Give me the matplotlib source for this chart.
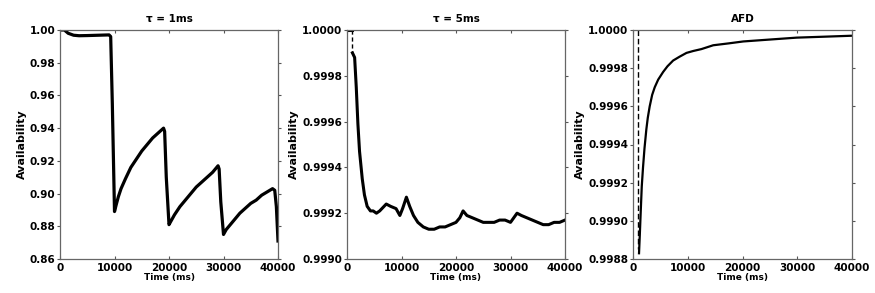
import matplotlib
matplotlib.use('Agg')
from matplotlib import pyplot as plt

plt.rcParams['font.family'] = 'DejaVu Sans'
plt.rcParams['font.weight'] = 'bold'

# tau = 1ms
t1 = [0, 800, 1500, 2500, 3500, 5000, 7000, 9000, 9300, 9600, 10000,
      10300, 10700, 11200, 12000, 13000, 14000, 15000, 16000, 17000, 18000, 19000,
      19200, 19500, 20000,
      20500, 21000, 22000, 23000, 24000, 25000, 26000, 27000, 28000, 29000,
      29200, 29500, 30000,
      30500, 31000, 32000, 33000, 34000, 35000, 36000, 37000, 38000, 39000,
      39400, 39700, 40000]
a1 = [1.0, 1.0, 0.998, 0.9968, 0.9965, 0.9966, 0.9968, 0.997, 0.996, 0.955, 0.889,
      0.893, 0.898, 0.903, 0.909, 0.916, 0.921, 0.926, 0.930, 0.934, 0.937, 0.940,
      0.938, 0.910, 0.881,
      0.884, 0.887, 0.892, 0.896, 0.900, 0.904, 0.907, 0.910, 0.913, 0.917,
      0.915, 0.895, 0.875,
      0.878, 0.880, 0.884, 0.888, 0.891, 0.894, 0.896, 0.899, 0.901, 0.903,
      0.902, 0.892, 0.871]

# tau = 5ms
t2 = [1000, 1400, 1700, 2000, 2300, 2800, 3200, 3700, 4300, 4800, 5400, 6000,
      7200, 8000, 9000, 9700, 10200, 10900, 11500, 12200, 13000, 14000, 15000,
      16000, 17000, 18000, 19000, 20000, 20700, 21300, 22000, 23000, 24000,
      25000, 26000, 27000, 28000, 29000, 30000, 30600, 31200, 32000, 33000,
      34000, 35000, 36000, 37000, 38000, 39000, 40000]
a2 = [0.99990, 0.99988, 0.99975, 0.99959, 0.99947, 0.99935, 0.99928, 0.99923,
      0.99921, 0.99921, 0.99920, 0.99921, 0.99924, 0.99923, 0.99922, 0.99919,
      0.99922, 0.99927, 0.99923, 0.99919, 0.99916, 0.99914, 0.99913, 0.99913,
      0.99914, 0.99914, 0.99915, 0.99916, 0.99918, 0.99921, 0.99919, 0.99918,
      0.99917, 0.99916, 0.99916, 0.99916, 0.99917, 0.99917, 0.99916, 0.99918,
      0.99920, 0.99919, 0.99918, 0.99917, 0.99916, 0.99915, 0.99915, 0.99916,
      0.99916, 0.99917]

# AFD
t3 = [1100, 1250, 1400, 1600, 1830, 2100, 2440, 2700, 3050, 3500, 3970, 4600,
      5500, 6300, 7330, 8500, 9770, 11000, 12500, 14650, 17500, 20150, 25000,
      29900, 35000, 40000]
a3 = [0.99883, 0.99893, 0.99904, 0.99918, 0.99928, 0.99938, 0.99948, 0.99954,
      0.99960, 0.99966, 0.99970, 0.99974, 0.99978, 0.99981, 0.99984, 0.99986,
      0.99988, 0.99989, 0.99990, 0.99992, 0.99993, 0.99994, 0.99995, 0.99996,
      0.999965, 0.99997]

panels = [
    ('\u03c4 = 1ms', t1, a1, 2.3, (0.86, 1.0), [0.86, 0.88, 0.90, 0.92, 0.94, 0.96, 0.98, 1.00], '%.2f', [60, 278]),
    ('\u03c4 = 5ms', t2, a2, 2.2, (0.999, 1.0), [0.999, 0.9992, 0.9994, 0.9996, 0.9998, 1.0], '%.4f', [347, 565]),
    ('AFD', t3, a3, 1.6, (0.9988, 1.0), [0.9988, 0.999, 0.9992, 0.9994, 0.9996, 0.9998, 1.0], '%.4f', [633, 852]),
]

W, H = 875, 293
fig = plt.figure(figsize=(W / 100, H / 100), dpi=100)

for i, (title, t, a, lw, ylim, yticks, fmt, (x0, x1)) in enumerate(panels):
    ax = fig.add_axes([x0 / W, 1 - 259 / H, (x1 - x0) / W, (259 - 30) / H])
    ax.plot(t, a, color='black', linewidth=lw)
    if i == 1:
        ax.plot([0, 1000], [1.0, 1.0], color='black', linewidth=2.2)
        ax.plot([1000, 1000], [1.0, 0.9999], color='black', linewidth=1, dashes=(3, 2))
    if i == 2:
        ax.plot([1000, 1000], [1.0, 0.99885], color='black', linewidth=1, dashes=(4, 2))
    ax.set_xlim(0, 40000)
    ax.set_ylim(*ylim)
    ax.set_xticks([0, 10000, 20000, 30000, 40000])
    ax.set_xticklabels(['0', '10000', '20000', '30000', '40000'])
    ax.set_yticks(yticks)
    ax.set_yticklabels([fmt % v for v in yticks])
    ax.tick_params(axis='x', direction='in', length=2, top=True, labelsize=7.5, pad=3, color='#555555')
    ax.tick_params(axis='y', direction='out', length=2, right=True, labelsize=7.5, pad=1.5, color='#555555')
    for s in ax.spines.values():
        s.set_color('#666666')
        s.set_linewidth(0.9)
    ax.set_title(title, fontsize=7.5, fontweight='bold', pad=6)
    ax.set_xlabel('Time (ms)', fontsize=6.5, fontweight='bold', labelpad=0)
    ax.set_ylabel('Availability', fontsize=8, fontweight='bold', labelpad=2)

fig.savefig('out.png', dpi=100)
